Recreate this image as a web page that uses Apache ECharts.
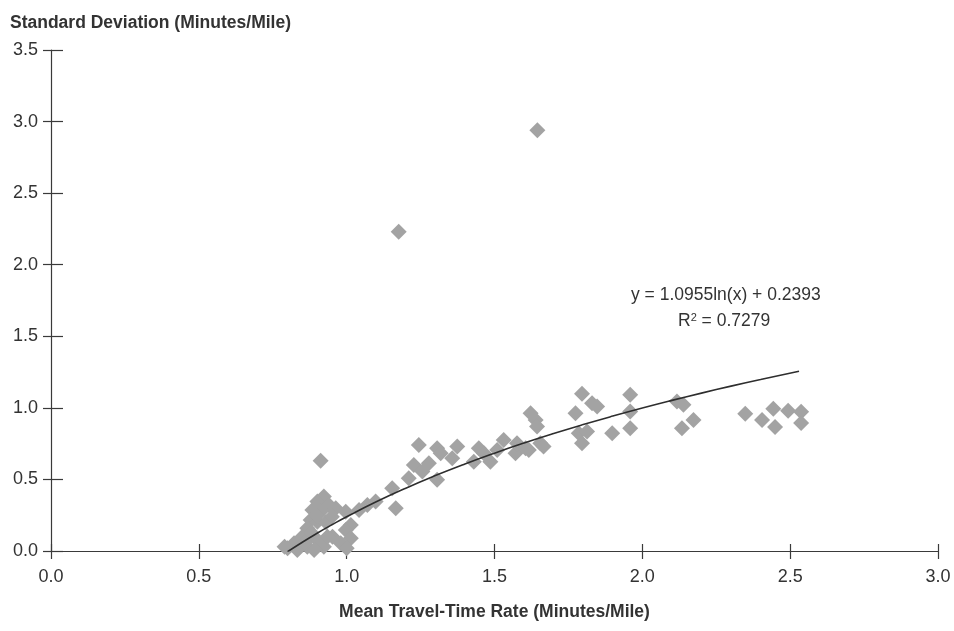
<!DOCTYPE html>
<html><head><meta charset="utf-8">
<script src="https://cdn.jsdelivr.net/npm/echarts@6/dist/echarts.min.js"></script>
<style>html,body{margin:0;padding:0;background:#fff}#c{width:954px;height:631px}</style>
</head><body><div id="c"></div>
<script>
// Scatter values: mean travel-time rate (x) and standard deviation (y)
const meanRate = [
  0.912,0.923,0.901,0.940,0.963,0.884,0.912,0.997,0.878,0.901,0.867,1.014,0.997,0.952,1.014,0.980,0.850,0.822,0.800,0.901,0.923,0.867,0.833,0.890,0.935,
  0.88,0.86,0.93,0.95,0.90,1.00,0.79,
  1.244,1.306,1.318,1.357,1.227,1.278,1.256,1.210,1.306,1.154,1.098,1.070,1.166,1.042,
  1.374,1.447,1.464,1.531,1.430,1.486,1.509,1.571,1.605,1.622,1.639,1.644,1.616,1.655,1.666,1.576,
  1.796,1.774,1.830,1.847,1.785,1.813,1.796,1.898,1.959,1.959,1.959,2.117,2.139,2.134,2.173,
  2.348,2.405,2.443,2.449,2.493,2.537,2.537,
  1.176,1.645
];
const stdDev = [
  0.631,0.380,0.345,0.322,0.299,0.287,0.275,0.275,0.217,0.205,0.159,0.182,0.147,0.100,0.089,0.054,0.100,0.054,0.019,0.077,0.030,0.030,0.007,0.007,0.100,
  0.13,0.06,0.20,0.24,0.25,0.02,0.03,
  0.741,0.718,0.683,0.648,0.601,0.613,0.555,0.508,0.497,0.438,0.345,0.322,0.299,0.287,
  0.730,0.718,0.683,0.776,0.624,0.624,0.706,0.683,0.718,0.963,0.916,0.869,0.706,0.753,0.730,0.753,
  1.098,0.963,1.033,1.009,0.823,0.834,0.753,0.823,1.091,0.974,0.858,1.044,1.021,0.858,0.916,
  0.958,0.916,0.993,0.867,0.979,0.972,0.895,
  2.23,2.94
];
// Logarithmic trendline points (y = 1.0955 ln(x) + 0.2393)
const trendX = [0.80,0.85,0.90,0.95,1.0,1.1,1.2,1.3,1.4,1.5,1.6,1.7,1.8,1.9,2.0,2.1,2.2,2.3,2.4,2.53];
const trendY = [-0.0052,0.0613,0.1239,0.1831,0.2393,0.3437,0.4390,0.5267,0.6079,0.6835,0.7542,0.8206,0.8832,0.9424,0.9987,1.0521,1.1031,1.1518,1.1984,1.2562];
const xTicks = {min:0, max:3, interval:0.5};
const yTicks = {min:0, max:3.5, interval:0.5};
const eqLine1 = 'y = 1.0955ln(x) + 0.2393';
const eqLine2 = '0.7279';

const FONT = '"Liberation Sans",Arial,sans-serif';
const axisCol = '#3a3a3a';
const labelStyle = {color:'#333', fontSize:18, fontFamily:FONT};

const chart = echarts.init(document.getElementById('c'));
chart.setOption({
  animation:false,
  backgroundColor:'#fff',
  grid:{left:51, right:16, top:50, bottom:80, containLabel:false},
  xAxis:[
    {type:'value', min:xTicks.min, max:xTicks.max, interval:xTicks.interval, position:'bottom',
     axisLine:{show:true, onZero:false, lineStyle:{color:axisCol, width:1.2}},
     axisTick:{show:true, length:8, lineStyle:{color:axisCol, width:1.2}},
     axisLabel:Object.assign({margin:17, formatter:v=>v.toFixed(1)}, labelStyle),
     splitLine:{show:false},
     name:'Mean Travel-Time Rate (Minutes/Mile)', nameLocation:'middle', nameGap:52,
     nameTextStyle:{color:'#333', fontSize:17.5, fontWeight:'bold', fontFamily:FONT}},
    {type:'value', min:xTicks.min, max:xTicks.max, interval:xTicks.interval, position:'bottom',
     axisLine:{show:false, onZero:false}, axisTick:{show:true, inside:true, length:7, lineStyle:{color:axisCol, width:1.2}},
     axisLabel:{show:false}, splitLine:{show:false}}
  ],
  yAxis:[
    {type:'value', min:yTicks.min, max:yTicks.max, interval:yTicks.interval, position:'left',
     axisLine:{show:true, onZero:false, lineStyle:{color:axisCol, width:1.2}},
     axisTick:{show:true, length:8, lineStyle:{color:axisCol, width:1.2}},
     axisLabel:Object.assign({margin:13, formatter:v=>v.toFixed(1)}, labelStyle),
     splitLine:{show:false},
     name:'Standard Deviation (Minutes/Mile)', nameLocation:'end', nameGap:18,
     nameTextStyle:{color:'#333', fontSize:17.5, fontWeight:'bold', fontFamily:FONT, align:'left', padding:[0,0,0,-41]}},
    {type:'value', min:yTicks.min, max:yTicks.max, interval:yTicks.interval, position:'left',
     axisLine:{show:false, onZero:false}, axisTick:{show:true, inside:true, length:12, lineStyle:{color:axisCol, width:1.2}},
     axisLabel:{show:false}, splitLine:{show:false}}
  ],
  graphic:[
    {type:'text', left:631, top:286, style:{text:eqLine1, fill:'#333', fontSize:17.5, fontFamily:FONT}},
    {type:'text', left:678, top:312, style:{
      text:'R{sup|2} = ' + eqLine2, fill:'#333', fontSize:17.5, fontFamily:FONT,
      rich:{sup:{fontSize:11, verticalAlign:'top', padding:[0,0,8,0], fill:'#333', fontFamily:FONT}}}}
  ],
  series:[
    {type:'scatter', xAxisIndex:0, yAxisIndex:0, symbol:'diamond', symbolSize:16,
     itemStyle:{color:'#a3a3a3', opacity:1},
     data: meanRate.map((x,i)=>[x, stdDev[i]]), z:2},
    {type:'line', xAxisIndex:0, yAxisIndex:0, smooth:true, showSymbol:false, symbol:'none',
     lineStyle:{color:'#2e2e2e', width:1.6},
     data: trendX.map((x,i)=>[x, trendY[i]]), z:3}
  ]
});
</script>
</body></html>
